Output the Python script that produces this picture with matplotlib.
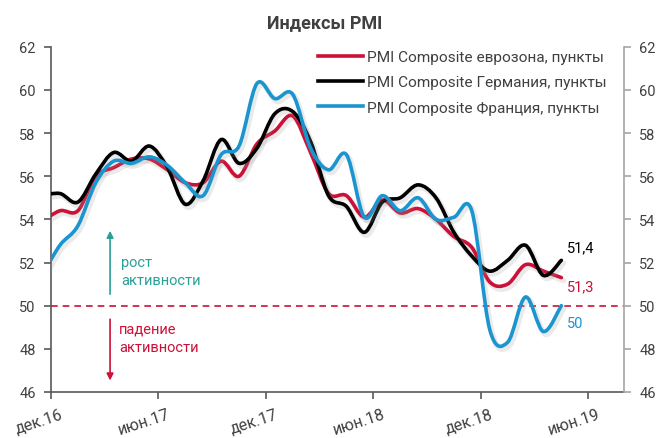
import matplotlib
matplotlib.use("Agg")
import matplotlib.pyplot as plt
import matplotlib.patheffects as pe
from matplotlib.path import Path
from matplotlib.patches import PathPatch
from matplotlib.lines import Line2D
import matplotlib.transforms as mtransforms
import numpy as np
import pandas as pd

plt.rcParams['font.family'] = ['Roboto', 'DejaVu Sans']

# ---- data ----
dates = pd.period_range('2016-11', '2019-04', freq='M')
eurozone = [53.9, 54.4, 54.4, 56.0, 56.4, 56.8, 56.8, 56.3, 55.7, 55.7, 56.7, 56.0,
            57.5, 58.1, 58.8, 57.1, 55.2, 55.1, 54.1, 54.9, 54.3, 54.5, 54.0, 53.2,
            52.7, 51.1, 51.0, 51.9, 51.6, 51.3]
germany = [55.1, 55.2, 54.8, 56.1, 57.1, 56.7, 57.4, 56.4, 54.7, 55.8, 57.7, 56.6,
           57.3, 58.9, 59.0, 57.6, 55.1, 54.6, 53.4, 54.8, 55.0, 55.6, 55.0, 53.4,
           52.3, 51.6, 52.1, 52.8, 51.4, 52.1]
france = [51.4, 52.8, 53.7, 55.7, 56.7, 56.6, 56.9, 56.5, 55.7, 55.1, 57.0, 57.4,
          60.3, 59.6, 59.8, 57.3, 56.3, 57.0, 54.1, 55.1, 54.4, 55.0, 54.0, 54.1,
          54.4, 48.9, 48.3, 50.4, 48.8, 50.0]
series_names = ['PMI Composite еврозона, пункты',
                'PMI Composite Германия, пункты',
                'PMI Composite Франция, пункты']
end_labels = ['51,3', '51,4', '50']
tick_labels = ['дек.16', 'июн.17', 'дек.17', 'июн.18', 'дек.18', 'июн.19']
title = 'Индексы PMI'

RED = '#CC1138'
BLACK = '#000000'
BLUE = '#1B95CF'
TEAL = '#2AA198'
colors = [RED, BLACK, BLUE]

# month position: Dec 2016 start = 0, points at mid-month
base = pd.Period('2016-12', freq='M')
x = np.array([(d - base).n for d in dates], dtype=float) + 0.5
tick_pos = np.arange(0, 31, 6)


def smooth_path(xs, ys):
    pts = np.column_stack([xs, ys])
    n = len(pts)
    verts = [pts[0]]
    codes = [Path.MOVETO]
    for i in range(n - 1):
        p0 = pts[i - 1] if i > 0 else pts[i]
        p1 = pts[i]
        p2 = pts[i + 1]
        p3 = pts[i + 2] if i + 2 < n else pts[i + 1]
        c1 = p1 + (p2 - p0) / 6.0
        c2 = p2 - (p3 - p1) / 6.0
        verts += [c1, c2, p2]
        codes += [Path.CURVE4] * 3
    return Path(np.array(verts), codes)


fig = plt.figure(figsize=(6.62, 4.39), dpi=100)
ax = fig.add_axes([0.077, 0.105, 0.8656, 0.786])

lw = 2.6
for vals, c in zip([eurozone, germany, france], colors):
    patch = PathPatch(smooth_path(x, np.array(vals)), fill=False, edgecolor=c,
                      lw=lw, capstyle='round', joinstyle='round', zorder=3)
    patch.set_path_effects([pe.SimpleLineShadow(offset=(1.5, -2), shadow_color='#999999',
                                                alpha=0.2, linewidth=lw + 1.5),
                            pe.Normal()])
    ax.add_patch(patch)

ax.axhline(50, color=RED, lw=1.2, ls=(0, (4, 3)), zorder=2)

ax.set_xlim(0, 32.0)
ax.set_ylim(46, 62)
ax.set_yticks(np.arange(46, 63, 2))
ax.set_xticks(tick_pos)
ax.set_xticklabels(tick_labels)

ax.spines['top'].set_visible(False)
ax.spines['right'].set_visible(False)
for s in ['left', 'bottom']:
    ax.spines[s].set_color('#595959')
    ax.spines[s].set_linewidth(1.2)
ax.tick_params(axis='both', colors='#595959', labelcolor='#404040', labelsize=10.5,
               direction='out', length=5, width=1.2)
ax.tick_params(axis='y', pad=6)
ax.tick_params(axis='x', pad=3, labelsize=11.5)

for lab in ax.get_xticklabels():
    lab.set_rotation(18)
    lab.set_ha('right')
    lab.set_va('top')
    lab.set_rotation_mode('anchor')
    lab.set_transform(lab.get_transform() + mtransforms.ScaledTranslation(9 / 100, -3 / 100, fig.dpi_scale_trans))

ax2 = ax.twinx()
ax2.set_ylim(46, 62)
ax2.set_yticks(np.arange(46, 63, 2))
for s in ['left', 'top', 'bottom']:
    ax2.spines[s].set_visible(False)
ax2.spines['right'].set_color('#A6A6A6')
ax2.spines['right'].set_linewidth(1.2)
ax2.tick_params(axis='y', colors='#A6A6A6', labelcolor='#404040', labelsize=10.5,
                direction='out', length=5, width=1.2, pad=6)

fig.text(325 / 662, 1 - 23 / 439, title, fontsize=13, fontweight='bold', color='#404040',
         ha='center', va='center')

handles = [Line2D([], [], color=c, lw=lw) for c in colors]
ax.legend(handles, series_names, loc='upper left', bbox_to_anchor=(0.466, 0.99),
          frameon=False, fontsize=11.1, handlelength=2.95, handletextpad=0.2,
          labelspacing=0.72, borderaxespad=0, borderpad=0, labelcolor='#404040')

# activity annotations
ax.annotate('', xy=(3.3, 53.6), xytext=(3.3, 50.4),
            arrowprops=dict(arrowstyle='-|>', color=TEAL, lw=1.2, mutation_scale=10))
ax.text(3.9, 51.6, 'рост\nактивности', color=TEAL, fontsize=10.5, va='center',
        ha='left', linespacing=1.4)
ax.annotate('', xy=(3.3, 46.4), xytext=(3.3, 49.5),
            arrowprops=dict(arrowstyle='-|>', color=RED, lw=1.2, mutation_scale=10))
ax.text(3.8, 48.5, 'падение\nактивности', color=RED, fontsize=10.5, va='center',
        ha='left', linespacing=1.4)

# end value labels
ax.text(28.8, 52.7, end_labels[1], color=BLACK, fontsize=10.5, va='center', ha='left')
ax.text(28.8, 50.9, end_labels[0], color=RED, fontsize=10.5, va='center', ha='left')
ax.text(28.8, 49.2, end_labels[2], color=BLUE, fontsize=10.5, va='center', ha='left')

fig.savefig('out.png', dpi=100)
